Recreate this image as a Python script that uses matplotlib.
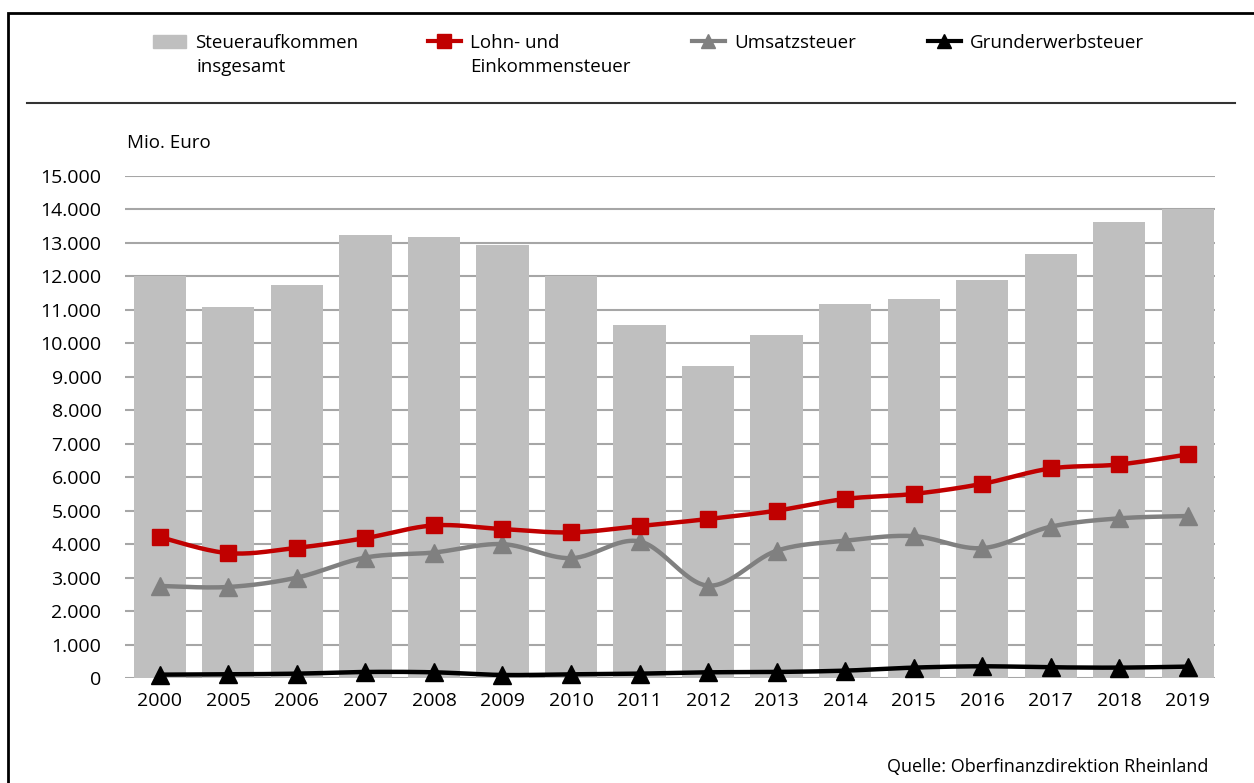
import numpy as np
import matplotlib
matplotlib.use("Agg")
import matplotlib.pyplot as plt
from matplotlib.lines import Line2D
from matplotlib.patches import Patch, Rectangle
from matplotlib.ticker import FuncFormatter

# data (Mio. Euro)
years = ["2000", "2005", "2006", "2007", "2008", "2009", "2010", "2011",
         "2012", "2013", "2014", "2015", "2016", "2017", "2018", "2019"]
total = [12000, 11080, 11750, 13240, 13180, 12940, 12000, 10550,
         9320, 10250, 11170, 11320, 11890, 12670, 13620, 14010]
lohn = [4210, 3730, 3890, 4180, 4560, 4450, 4350, 4540,
        4750, 5000, 5350, 5500, 5800, 6260, 6380, 6680]
umsatz = [2750, 2720, 3000, 3600, 3750, 4000, 3580, 4080,
          2760, 3800, 4100, 4240, 3880, 4520, 4770, 4840]
grund = [100, 110, 130, 180, 170, 90, 110, 130,
         170, 180, 220, 310, 350, 320, 310, 340]

BAR = "#bfbfbf"
RED = "#c00000"
GRAY = "#808080"
BLACK = "#000000"

plt.rcParams['font.family'] = ["Liberation Sans Narrow", "Open Sans", "DejaVu Sans"]


def smooth(y, n=30):
    # excel-like smoothed line: cubic bezier through the points
    y = np.asarray(y, float)
    x = np.arange(len(y), dtype=float)
    pts = np.column_stack([x, y])
    out = []
    for i in range(len(pts) - 1):
        p0 = pts[max(i - 1, 0)]
        p1 = pts[i]
        p2 = pts[i + 1]
        p3 = pts[min(i + 2, len(pts) - 1)]
        c1 = p1 + (p2 - p0) / 6
        c2 = p2 - (p3 - p1) / 6
        t = np.linspace(0, 1, n)[:, None]
        seg = ((1 - t) ** 3) * p1 + 3 * ((1 - t) ** 2) * t * c1 + 3 * (1 - t) * t ** 2 * c2 + t ** 3 * p2
        out.append(seg if i == 0 else seg[1:])
    seg = np.vstack(out)
    return seg[:, 0], seg[:, 1]


fig = plt.figure(figsize=(12.54, 7.83), dpi=100)
ax = fig.add_axes([125 / 1254, 1 - 678 / 783, (1215 - 125) / 1254, (678 - 176) / 783])

x = np.arange(len(years))
ax.bar(x, total, width=0.76, color=BAR, zorder=2)

for vals, col, mk in [(umsatz, GRAY, "^"), (lohn, RED, "s"), (grund, BLACK, "^")]:
    sx, sy = smooth(vals)
    ax.plot(sx, sy, color=col, lw=3.2, zorder=3, solid_capstyle="round")
    ax.plot(x, vals, ls="none", marker=mk, ms=12 if mk == "s" else 12.5,
            color=col, zorder=4, clip_on=False)

ax.set_xlim(-0.51, 15.4)
ax.set_ylim(0, 15000)
ax.set_yticks(np.arange(0, 15001, 1000))
ax.yaxis.set_major_formatter(FuncFormatter(lambda v, p: f"{int(v):,}".replace(",", ".")))
ax.set_xticks(x)
ax.set_xticklabels(years)
ax.grid(axis="y", color="#a6a6a6", lw=1.5, zorder=1)
ax.set_axisbelow(True)
for s in ax.spines.values():
    s.set_visible(False)
ax.tick_params(length=0, labelsize=14, colors="black")
ax.tick_params(axis="y", pad=17)
ax.tick_params(axis="x", pad=10)
ax.patch.set_alpha(0)

fig.text(127 / 1254, 1 - 143 / 783, "Mio. Euro", fontsize=13.5, va="center", ha="left")
fig.text(1208 / 1254, 1 - 767 / 783, "Quelle: Oberfinanzdirektion Rheinland",
         fontsize=13, va="center", ha="right")

# frame and separator
fig.add_artist(Rectangle((8 / 1254, -0.05), 1.2, 1 - 13 / 783 + 0.05,
                         transform=fig.transFigure, fill=False, ec="black", lw=2))
fig.add_artist(Line2D([27 / 1254, 1235 / 1254], [1 - 103 / 783] * 2,
                      transform=fig.transFigure, color="#333333", lw=1.5))

# legend entries
entries = [
    (Patch(color=BAR), "Steueraufkommen", "insgesamt", 153, 196),
    (Line2D([], [], color=RED, lw=3, marker="s", ms=10), "Lohn- und", "Einkommensteuer", 428, 470),
    (Line2D([], [], color=GRAY, lw=3, marker="^", ms=10), "Umsatzsteuer", None, 692, 737),
    (Line2D([], [], color=BLACK, lw=3, marker="^", ms=10), "Grunderwerbsteuer", None, 928, 973),
]
for h, l1, l2, px, tx in entries:
    fig.legend([h], [l1], loc="center left", bbox_to_anchor=(px / 1254, 1 - 43 / 783),
               frameon=False, fontsize=13.5, handlelength=1.75, handletextpad=0.5,
               borderpad=0, borderaxespad=0)
    if l2:
        fig.text(tx / 1254, 1 - 67 / 783, l2, fontsize=13.5, va="center", ha="left")

fig.savefig("out.png", dpi=100)
